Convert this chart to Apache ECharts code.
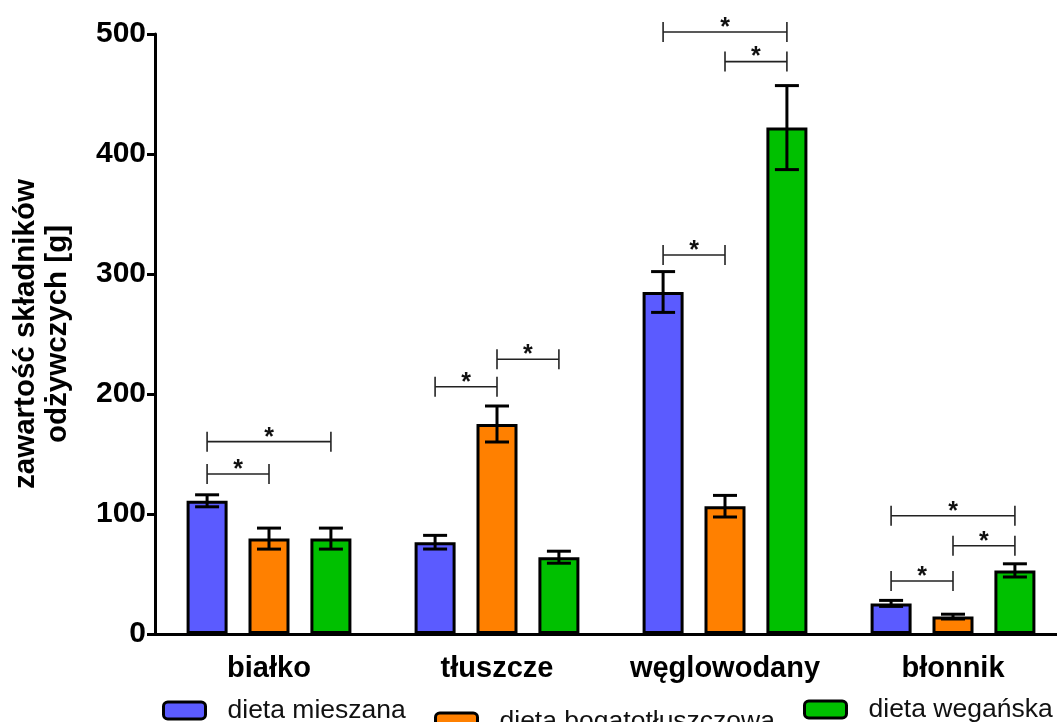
<!DOCTYPE html>
<html>
<head>
<meta charset="utf-8">
<script src="https://cdn.jsdelivr.net/npm/echarts@6/dist/echarts.min.js"></script>
<style>
  html, body { margin: 0; padding: 0; background: #fff; }
  #chart { width: 1057px; height: 722px; }
</style>
</head>
<body>
<div id="chart"></div>
<script>
// Nutrient content per diet type (grams), mean and error (SEM)
const categories = ['białko', 'tłuszcze', 'węglowodany', 'błonnik'];
const dietNames = ['dieta mieszana', 'dieta bogatotłuszczowa', 'dieta wegańska'];
const dietColors = ['#5b5bff', '#ff8000', '#00c000'];

const meanMieszana = [111, 76.5, 285, 25.5];
const errMieszana = [5, 5.7, 17, 2.5];
const meanBogatotluszczowa = [79.5, 175, 106.5, 14.5];
const errBogatotluszczowa = [8.75, 15, 9, 2];
const meanWeganska = [79.5, 64, 422, 53];
const errWeganska = [8.75, 5, 35, 5.5];

const yTicks = [0, 100, 200, 300, 400, 500];

// Significance brackets: [category, group A, group B, bracket height (g)]
const brackets = [
  [0, 0, 1, 133.3], [0, 0, 2, 160.3],
  [1, 0, 1, 206], [1, 1, 2, 229],
  [2, 0, 1, 315.8], [2, 0, 2, 501.7], [2, 1, 2, 477],
  [3, 0, 1, 44.2], [3, 1, 2, 73.6], [3, 0, 2, 98.6]
];

const means = [meanMieszana, meanBogatotluszczowa, meanWeganska];
const errs = [errMieszana, errBogatotluszczowa, errWeganska];

const FONT = "'Liberation Sans', Arial, sans-serif";
const BAR_WIDTH = 41;
const BAR_GAP = 0.51;
const GROUP_STEP = BAR_WIDTH * (1 + BAR_GAP);

const errorData = [];
means.forEach((arr, g) => arr.forEach((m, c) => errorData.push([c, g, m, errs[g][c]])));

const chart = echarts.init(document.getElementById('chart'), null, { renderer: 'canvas' });

const barSeries = dietNames.map((name, g) => ({
  name: name,
  type: 'bar',
  data: means[g],
  barWidth: BAR_WIDTH,
  barGap: (BAR_GAP * 100) + '%',
  itemStyle: { color: dietColors[g], borderColor: '#000', borderWidth: 3 },
  z: 2
}));

function legendFor(i, left, top) {
  return {
    data: [dietNames[i]],
    left: left,
    top: top,
    padding: 0,
    itemWidth: 42,
    itemHeight: 17,
    icon: 'roundRect',
    selectedMode: false,
    itemStyle: { borderColor: '#000', borderWidth: 3 },
    textStyle: { fontFamily: FONT, fontSize: 26.5, color: '#111', padding: [0, 0, 0, 17] }
  };
}

chart.setOption({
  animation: false,
  backgroundColor: '#fff',
  grid: { left: 155, right: -10, top: 34, bottom: 88, outerBoundsMode: 'none' },
  legend: [
    legendFor(0, 162, 697),
    legendFor(1, 434, 708),
    legendFor(2, 803, 696)
  ],
  xAxis: {
    type: 'category',
    data: categories,
    axisLine: { lineStyle: { color: '#000', width: 3 } },
    axisTick: { alignWithLabel: true, length: 9, lineStyle: { color: '#000', width: 3 } },
    axisLabel: { interval: 0, fontFamily: FONT, fontSize: 29, fontWeight: 'bold', color: '#000', margin: 20 }
  },
  yAxis: {
    type: 'value',
    min: yTicks[0],
    max: yTicks[yTicks.length - 1],
    interval: yTicks[1] - yTicks[0],
    name: 'zawartość składników\nodżywczych [g]',
    nameLocation: 'middle',
    nameGap: 81,
    nameTextStyle: { fontFamily: FONT, fontSize: 29.5, fontWeight: 'bold', color: '#000', lineHeight: 32 },
    axisLine: { show: true, lineStyle: { color: '#000', width: 3 } },
    axisTick: { show: true, length: 8, lineStyle: { color: '#000', width: 3 } },
    axisLabel: { fontFamily: FONT, fontSize: 30, fontWeight: 'bold', color: '#000', margin: 9 },
    splitLine: { show: false }
  },
  series: barSeries.concat([
    {
      name: 'error',
      type: 'custom',
      data: errorData,
      encode: { x: 0, y: 2 },
      z: 3,
      renderItem: function (params, api) {
        const c = api.value(0), g = api.value(1), m = api.value(2), e = api.value(3);
        const hi = api.coord([c, m + e]);
        const lo = api.coord([c, m - e]);
        const x = hi[0] + (g - 1) * GROUP_STEP;
        const cap = 12;
        const style = { stroke: '#000', lineWidth: 3 };
        return {
          type: 'group',
          children: [
            { type: 'line', shape: { x1: x, y1: hi[1], x2: x, y2: lo[1] }, style: style },
            { type: 'line', shape: { x1: x - cap, y1: hi[1], x2: x + cap, y2: hi[1] }, style: style },
            { type: 'line', shape: { x1: x - cap, y1: lo[1], x2: x + cap, y2: lo[1] }, style: style }
          ]
        };
      }
    },
    {
      name: 'significance',
      type: 'custom',
      data: brackets,
      encode: { x: 0, y: 3 },
      clip: false,
      z: 4,
      renderItem: function (params, api) {
        const c = api.value(0), a = api.value(1), b = api.value(2), h = api.value(3);
        const p = api.coord([c, h]);
        const xa = p[0] + (a - 1) * GROUP_STEP;
        const xb = p[0] + (b - 1) * GROUP_STEP;
        const y = p[1];
        const tick = 10;
        const style = { stroke: '#222', lineWidth: 1.6 };
        return {
          type: 'group',
          children: [
            { type: 'line', shape: { x1: xa, y1: y, x2: xb, y2: y }, style: style },
            { type: 'line', shape: { x1: xa, y1: y - tick, x2: xa, y2: y + tick }, style: style },
            { type: 'line', shape: { x1: xb, y1: y - tick, x2: xb, y2: y + tick }, style: style },
            {
              type: 'text',
              style: {
                x: (xa + xb) / 2, y: y - 4, text: '*',
                fill: '#111', font: 'bold 25px ' + FONT,
                align: 'center', verticalAlign: 'middle'
              }
            }
          ]
        };
      }
    }
  ])
});
</script>
</body>
</html>
